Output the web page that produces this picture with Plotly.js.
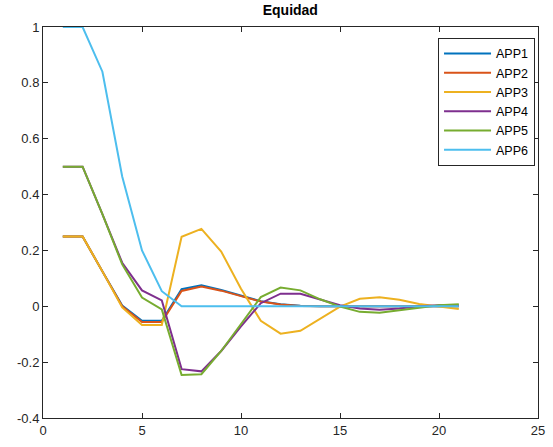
<!DOCTYPE html>
<html>
<head>
<meta charset="utf-8">
<script src="https://cdn.plot.ly/plotly-3.0.1.min.js"></script>
<style>html,body{margin:0;padding:0;background:#fff;}#chart{width:553px;height:447px;}</style>
</head>
<body>
<div id="chart"></div>
<script>
const xs = [1,2,3,4,5,6,7,8,9,10,11,12,13,14,15,16,17,18,19,20,21];
const app1 = [0.25,0.25,0.125,0.003,-0.052,-0.052,0.061,0.075,0.058,0.038,0.018,0.007,0.002,0.0,0.0,0.0,0.0,0.0,0.0,0.0,0.0];
const app2 = [0.25,0.25,0.125,0.0,-0.056,-0.056,0.055,0.071,0.056,0.037,0.017,0.006,0.001,0.0,0.0,0.0,0.0,0.0,0.0,0.0,0.0];
const app3 = [0.25,0.25,0.125,-0.004,-0.067,-0.067,0.249,0.277,0.196,0.063,-0.052,-0.098,-0.088,-0.045,-0.001,0.027,0.032,0.023,0.008,-0.001,-0.01];
const app4 = [0.5,0.5,0.33,0.156,0.057,0.021,-0.225,-0.233,-0.16,-0.072,0.011,0.045,0.045,0.025,0.004,-0.008,-0.012,-0.008,0.0,0.004,0.004];
const app5 = [0.5,0.5,0.33,0.15,0.031,-0.011,-0.246,-0.243,-0.16,-0.062,0.033,0.067,0.057,0.025,-0.001,-0.02,-0.023,-0.014,-0.004,0.004,0.007];
const app6 = [1,1,0.84,0.465,0.2,0.054,0,0,0,0,0,0,0,0,0,0,0,0,0,0,0];
const names = ['APP1','APP2','APP3','APP4','APP5','APP6'];
const colors = ['#0072BD','#D95319','#EDB120','#7E2F8E','#77AC30','#4DBEEE'];
const series = [app1,app2,app3,app4,app5,app6];
const xTickVals = [0,5,10,15,20,25];
const xTickText = ['0','5','10','15','20','25'];
const yTickVals = [-0.4,-0.2,0,0.2,0.4,0.6,0.8,1];
const yTickText = ['-0.4','-0.2','0','0.2','0.4','0.6','0.8','1'];

const traces = series.map((s,i)=>({
  x: xs, y: s, type:'scatter', mode:'lines', name: names[i],
  line:{color: colors[i], width: 2}
}));

const axisCommon = {
  showgrid:false, zeroline:false, showline:true, linecolor:'#262626', linewidth:1,
  mirror:'ticks', ticks:'inside', ticklen:5, tickcolor:'#262626', tickwidth:1,
  tickfont:{family:'Liberation Sans, Arial, sans-serif', size:13, color:'#262626'}
};

const layout = {
  width:553, height:447,
  margin:{l:43, r:15, t:27, b:29},
  paper_bgcolor:'#fff', plot_bgcolor:'#fff',
  title:{text:'<b>Equidad</b>', x:0.525, xanchor:'center', y:0.977, yanchor:'middle',
         font:{family:'Liberation Sans, Arial, sans-serif', size:14, color:'#000'}},
  xaxis: Object.assign({}, axisCommon, {range:[0,25], tickvals:xTickVals, ticktext:xTickText}),
  yaxis: Object.assign({}, axisCommon, {range:[-0.4,1], tickvals:yTickVals, ticktext:yTickText}),
  showlegend:true,
  legend:{x:0.994, xanchor:'right', y:0.972, yanchor:'top', bgcolor:'#fff',
          bordercolor:'#262626', borderwidth:1, itemwidth:47,
          font:{family:'Liberation Sans, Arial, sans-serif', size:12.5, color:'#000'},
          tracegroupgap:0}
};

Plotly.newPlot('chart', traces, layout, {displayModeBar:false, staticPlot:true});
</script>
</body>
</html>
